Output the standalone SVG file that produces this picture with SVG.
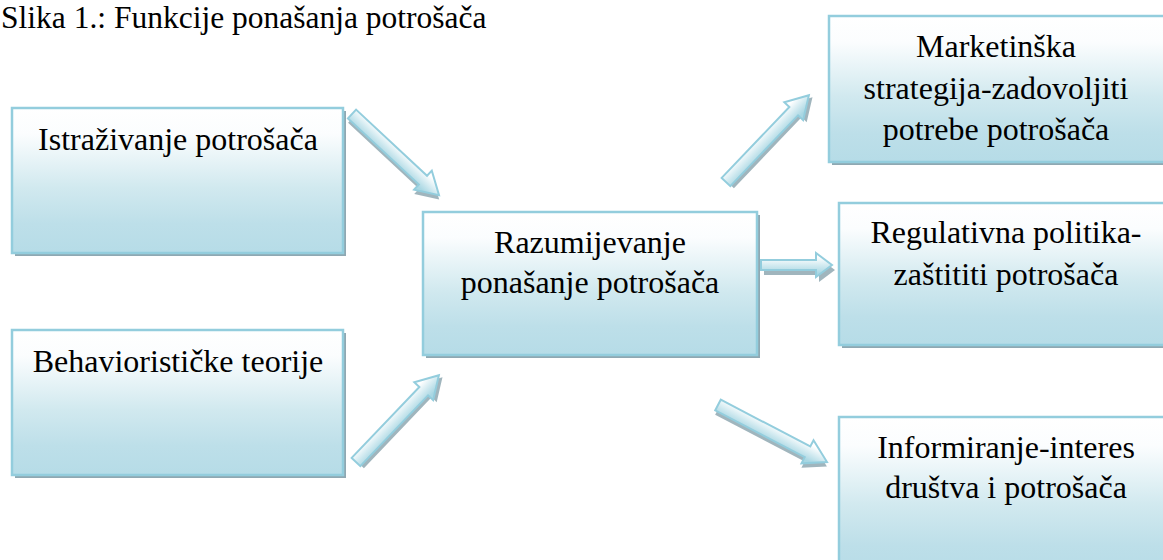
<svg xmlns="http://www.w3.org/2000/svg" width="1163" height="560" viewBox="0 0 1163 560">
<defs>
<linearGradient id="boxg" x1="0" y1="0" x2="0" y2="1">
<stop offset="0" stop-color="#ffffff"/>
<stop offset="0.18" stop-color="#fbfdfe"/>
<stop offset="0.55" stop-color="#d1e9ef"/>
<stop offset="0.8" stop-color="#bddfe9"/>
<stop offset="1" stop-color="#b6dce7"/>
</linearGradient>
<linearGradient id="arrg" gradientUnits="userSpaceOnUse" x1="0" y1="-8" x2="0" y2="8">
<stop offset="0" stop-color="#ffffff"/>
<stop offset="1" stop-color="#a9d7e3"/>
</linearGradient>
<style>
.box{fill:url(#boxg);stroke:#93cddd;stroke-width:2.5}
.shadow{fill:#8fa8b2}
.t{font-family:"Liberation Serif","Times New Roman",serif;font-size:32px;fill:#000;text-anchor:middle}
.title{font-family:"Liberation Serif","Times New Roman",serif;font-size:31.5px;fill:#000}
.arr{fill:url(#arrg);stroke:#93cddd;stroke-width:2;stroke-linejoin:miter}
.arrsh{fill:#8fa8b2;opacity:0.85}
</style>
</defs>
<rect width="1163" height="560" fill="#ffffff"/>
<text class="title" x="1" y="28">Slika 1.: Funkcije ponašanja potrošača</text>

<g id="connectors">
<g transform="translate(352,114) rotate(43)">
<path class="arrsh" transform="translate(3,3)" d="M0,-6 L97,-6 L97,-13 L119,0 L97,13 L97,6 L0,6 Z"/>
<path class="arr" d="M0,-6 L97,-6 L97,-13 L119,0 L97,13 L97,6 L0,6 Z"/>
</g>
<g transform="translate(356,462) rotate(-46.3)">
<path class="arrsh" transform="translate(1,4)" d="M0,-6 L98,-6 L98,-13 L120,0 L98,13 L98,6 L0,6 Z"/>
<path class="arr" d="M0,-6 L98,-6 L98,-13 L120,0 L98,13 L98,6 L0,6 Z"/>
</g>
<g transform="translate(726,182) rotate(-46.3)">
<path class="arrsh" transform="translate(1,4)" d="M0,-6 L98,-6 L98,-13 L120,0 L98,13 L98,6 L0,6 Z"/>
<path class="arr" d="M0,-6 L98,-6 L98,-13 L120,0 L98,13 L98,6 L0,6 Z"/>
</g>
<g transform="translate(761,265)">
<path class="arrsh" transform="translate(3,5)" d="M0,-5 L55,-5 L55,-12 L71,0 L55,12 L55,5 L0,5 Z"/>
<path class="arr" d="M0,-5 L55,-5 L55,-12 L71,0 L55,12 L55,5 L0,5 Z"/>
</g>
<g transform="translate(718,405) rotate(27.6)">
<path class="arrsh" transform="translate(2,4)" d="M0,-6 L101,-6 L101,-13 L123,0 L101,13 L101,6 L0,6 Z"/>
<path class="arr" d="M0,-6 L101,-6 L101,-13 L123,0 L101,13 L101,6 L0,6 Z"/>
</g>
</g>

<g id="node-istrazivanje">
<rect class="shadow" x="15" y="111" width="331" height="145"/>
<rect class="box" x="12" y="108" width="331" height="145"/>
<text class="t" x="178" y="150">Istraživanje potrošača</text>
</g>

<g id="node-behavioristicke">
<rect class="shadow" x="15" y="333" width="331" height="145"/>
<rect class="box" x="12" y="330" width="331" height="145"/>
<text class="t" x="178" y="372">Behaviorističke teorije</text>
</g>

<g id="node-razumijevanje">
<rect class="shadow" x="426" y="215" width="334" height="143"/>
<rect class="box" x="423" y="212" width="334" height="143"/>
<text class="t" x="590" y="253">Razumijevanje</text>
<text class="t" x="590" y="293">ponašanje potrošača</text>
</g>

<g id="node-marketinska">
<rect class="shadow" x="832" y="19" width="340" height="146"/>
<rect class="box" x="829" y="16" width="340" height="146"/>
<text class="t" x="996" y="57">Marketinška</text>
<text class="t" x="996" y="99">strategija-zadovoljiti</text>
<text class="t" x="996" y="140">potrebe potrošača</text>
</g>

<g id="node-regulativna">
<rect class="shadow" x="842" y="206" width="340" height="142"/>
<rect class="box" x="839" y="203" width="340" height="142"/>
<text class="t" x="1006" y="243">Regulativna politika-</text>
<text class="t" x="1006" y="285">zaštititi potrošača</text>
</g>

<g id="node-informiranje">
<rect class="shadow" x="842" y="420" width="340" height="160"/>
<rect class="box" x="839" y="417" width="340" height="160"/>
<text class="t" x="1006" y="458">Informiranje-interes</text>
<text class="t" x="1006" y="498">društva i potrošača</text>
</g>
</svg>
